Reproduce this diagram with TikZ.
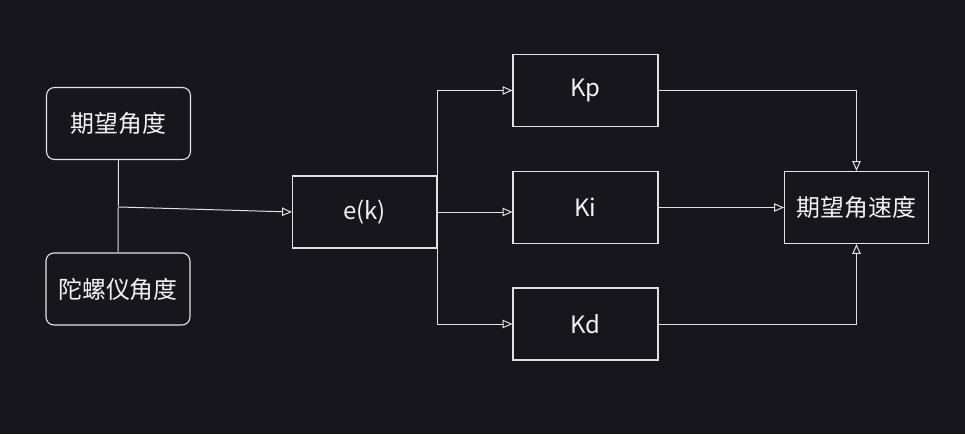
\documentclass[tikz,border=0pt]{standalone}
\usepackage{fontspec}
\setmainfont{Noto Sans CJK SC}
\usepackage{xcolor}
\usetikzlibrary{arrows.meta}
\definecolor{BoardBlack}{HTML}{17161D}
\definecolor{InkWhite}{HTML}{E2E2E2}
\definecolor{TextWhite}{HTML}{F2F2F2}

\begin{document}
\begin{tikzpicture}[x=0.025cm,y=-0.025cm,
    font=\fontsize{17}{20}\selectfont,
    >={Triangle[open,length=7pt,width=6pt]},
    block/.style={draw=InkWhite,line width=0.8pt,text=TextWhite,
      minimum width=3.6cm,minimum height=1.8cm,inner sep=0pt},
    source/.style={block,rounded corners=0.2cm},
    wire/.style={draw=InkWhite,line width=0.7pt}]

    % Dark board behind everything.
    \fill[BoardBlack] (0,0) rectangle (965,434);
    \useasboundingbox (0,0) rectangle (965,434);

    % Measured and wanted angle.
    \node[source] (want) at (118.5,123.5) {期望角度};
    \node[source] (gyro) at (118,289) {陀螺仪角度};

    % Error and the three gains.
    \node[block] (ek) at (364.5,212) {e(k)};
    \node[block,minimum width=3.625cm] (kp) at (585.5,90.5) {Kp};
    \node[block,minimum width=3.625cm] (ki) at (585.5,207.5) {Ki};
    \node[block,minimum width=3.625cm] (kd) at (585.5,324) {Kd};

    % Output.
    \node[block] (out) at (856.5,207.5) {期望角速度};

    % Angle difference into the error block.
    \coordinate (split) at (119,207);
    \draw[wire] (want.south) -- (gyro.north);
    \draw[wire,->] (split) -- (ek.west);

    % Error fanned out to the gains.
    \draw[wire,->] (ek.east) |- (kp.west);
    \draw[wire,->] (ek.east) -- (ek.east -| ki.west);
    \draw[wire,->] (ek.east) |- (kd.west);

    % Gains summed into the output.
    \draw[wire,->] (kp.east) -| (out.north);
    \draw[wire,->] (ki.east) -- (out.west);
    \draw[wire,->] (kd.east) -| (out.south);
  \end{tikzpicture}
\end{document}
